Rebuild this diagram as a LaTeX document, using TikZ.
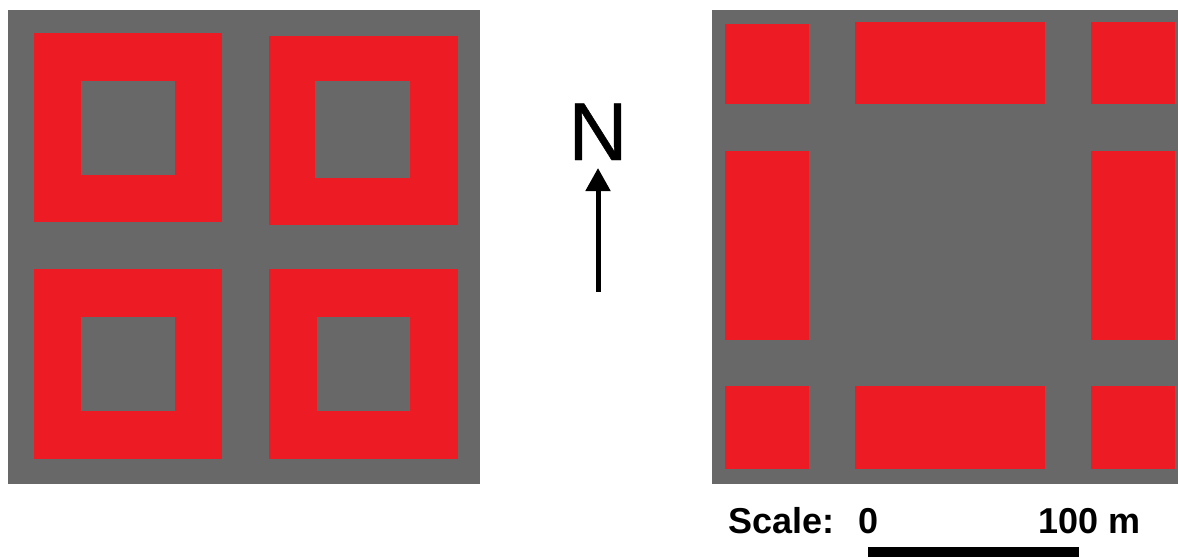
\documentclass[tikz,border=0pt]{standalone}
\usepackage{fontspec}
\setmainfont{Liberation Sans}
\newfontfamily\northfont[FakeBold=0.6]{Liberation Sans}
\usetikzlibrary{arrows.meta}
\definecolor{ground}{RGB}{104,104,104}
\definecolor{block}{RGB}{237,28,36}
\tikzset{
  x=1pt,y=-1pt,
  groundbox/.style={fill=ground,draw=none},
  blockbox/.style={fill=block,draw=none},
  lbl/.style={inner sep=0pt,anchor=base west,font=\fontsize{36}{36}\selectfont\bfseries,text=black}
}
\newcommand{\parcel}[8]{%
  \fill[blockbox] (#1,#2) rectangle (#3,#4);
  \fill[groundbox] (#5,#6) rectangle (#7,#8);
}
\begin{document}
\begin{tikzpicture}
\useasboundingbox (0,0) rectangle (1178,557);
\fill[white] (0,0) rectangle (1178,557);
% left panel
\fill[groundbox] (8,10) rectangle (480,484);
\parcel{34}{33}{222}{222}{81}{81}{175}{175}
\parcel{269}{36}{458}{225}{315}{81}{410}{178}
\parcel{34}{269}{222}{459}{81}{317}{175}{411}
\parcel{269}{269}{458}{459}{317}{317}{410}{411}
% right panel
\fill[groundbox] (712,10) rectangle (1178,484);
\fill[blockbox] (725,24) rectangle (809,104);
\fill[blockbox] (855,22) rectangle (1045,104);
\fill[blockbox] (1091,22) rectangle (1175,104);
\fill[blockbox] (725,151) rectangle (809,340);
\fill[blockbox] (1091,151) rectangle (1175,340);
\fill[blockbox] (725,386) rectangle (809,469);
\fill[blockbox] (855,386) rectangle (1045,469);
\fill[blockbox] (1091,386) rectangle (1175,469);
% north arrow
\node[inner sep=0pt,anchor=base] (north) at (598,160) {\northfont\fontsize{82}{82}\selectfont N};
\coordinate (tail) at (598,292);
\coordinate (tip) at (598,168);
\draw[line width=5pt,-{Triangle[length=23pt,width=24pt]}] (tail) -- (tip);
% scale
\node[lbl] (scale) at (728,533) {Scale:};
\node[lbl] (zero) at (858,533) {0};
\node[lbl] (hundred) at (1038,533) {100 m};
\fill[black] (868,547) rectangle (1079,557);
\end{tikzpicture}
\end{document}
